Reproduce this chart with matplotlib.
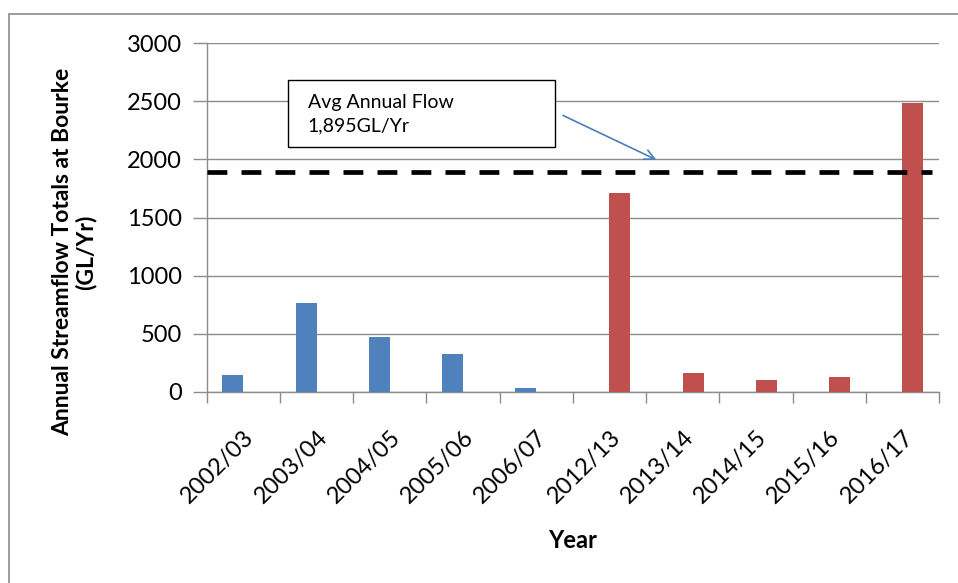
import matplotlib
matplotlib.use("Agg")
import matplotlib.pyplot as plt
from matplotlib.patches import Rectangle
import numpy as np

plt.rcParams['font.family'] = ['Lato', 'DejaVu Sans']

# Annual streamflow totals at Bourke (GL/Yr)
years = ["2002/03", "2003/04", "2004/05", "2005/06", "2006/07",
         "2012/13", "2013/14", "2014/15", "2015/16", "2016/17"]
early_flow = [144, 762, 474, 325, 32]        # 2002/03 - 2006/07
recent_flow = [1713, 159, 101, 129, 2486]    # 2012/13 - 2016/17
avg_flow = 1895
y_ticks = [0, 500, 1000, 1500, 2000, 2500, 3000]

BLUE = "#4F81BD"
RED = "#C0504D"
GRID = "#8C8C8C"

fig = plt.figure(figsize=(9.58, 5.83), dpi=100)
ax = fig.add_axes([0.2158, 0.3281, 0.7644, 0.5976])

n = len(years)
x = np.arange(n)
bw = 1 / 3.5
n_early = len(early_flow)
ax.bar(x[:n_early] - bw / 2, early_flow, width=bw, color=BLUE, zorder=3)
ax.bar(x[n_early:] + bw / 2, recent_flow, width=bw, color=RED, zorder=3)

ax.set_xlim(-0.5, n - 0.5)
ax.set_ylim(0, 3000)
ax.set_yticks(y_ticks)
ax.set_yticklabels([str(v) for v in y_ticks], fontsize=17)
ax.yaxis.grid(True, color=GRID, lw=1.0, zorder=0)
ax.set_axisbelow(True)

ax.set_xticks(x)
ax.set_xticklabels(years, fontsize=17, rotation=45, ha='right',
                   rotation_mode='anchor')
ax.set_xticks(np.arange(n + 1) - 0.5, minor=True)
ax.tick_params(axis='x', which='major', length=0, pad=25)
ax.tick_params(axis='x', which='minor', length=8, width=1.0, color=GRID)
ax.tick_params(axis='y', length=10, width=1.0, color=GRID, pad=8)

for s in ['top', 'right']:
    ax.spines[s].set_visible(False)
for s in ['left', 'bottom']:
    ax.spines[s].set_color(GRID)
    ax.spines[s].set_linewidth(1.0)

ax.set_ylabel("Annual Streamflow Totals at Bourke\n(GL/Yr)",
              fontsize=16.5, fontweight='bold', linespacing=1.1)
ax.yaxis.set_label_coords(-0.15, 0.40)
ax.set_xlabel("Year", fontsize=17, fontweight='bold')
ax.xaxis.set_label_coords(0.5, -0.395)

# average annual flow reference line
ax.axhline(avg_flow, xmin=0, xmax=0.99, color='black', lw=3.4,
           dashes=(4.2, 3.0), zorder=4)

# callout box with arrow
ax.add_patch(Rectangle((0.605, 2103), 4.256 - 0.605, 2687 - 2103,
                       facecolor='white', edgecolor='black', lw=1.0,
                       zorder=5))
ax.text(0.878, 2489, "Avg Annual Flow", fontsize=14, va='center',
        ha='left', zorder=6)
ax.text(0.878, 2293, "1,895GL/Yr", fontsize=14, va='center',
        ha='left', zorder=6)
ax.annotate("", xy=(5.64, 1997), xytext=(4.365, 2379),
            arrowprops=dict(arrowstyle='->', color='#4A7EBB', lw=1.2,
                            mutation_scale=18, shrinkA=0, shrinkB=0),
            zorder=6)

# chart border
fig.patches.append(Rectangle((9.3 / 958, -0.1), 1.2, 0.9755 + 0.1,
                             transform=fig.transFigure, fill=False,
                             edgecolor='#8C8C8C', lw=1.2))

fig.savefig("out.png", dpi=100)
